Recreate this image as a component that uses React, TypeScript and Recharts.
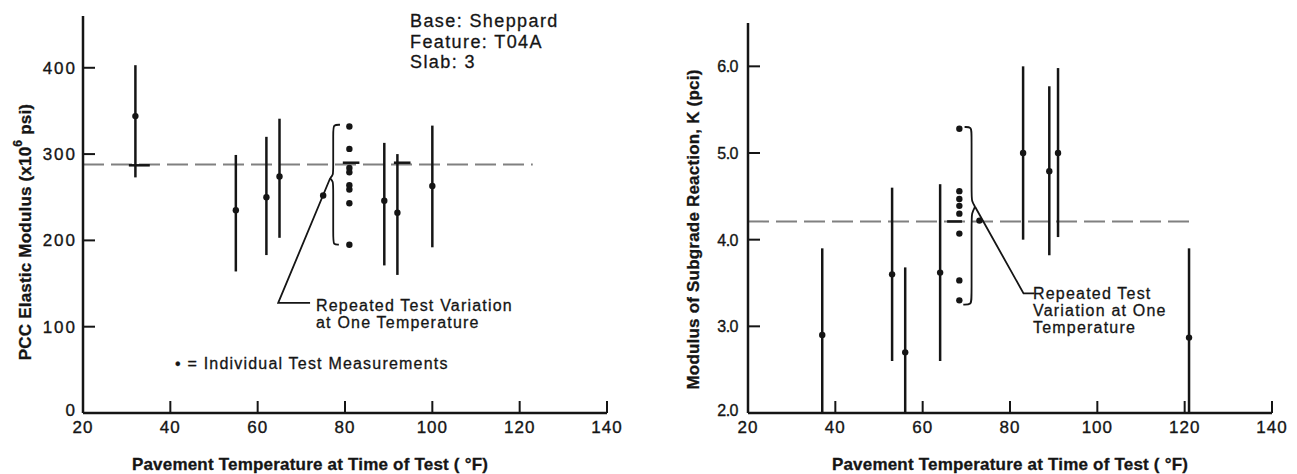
import React from 'react';
import { ComposedChart, Scatter, ErrorBar, XAxis, YAxis, Line, ReferenceLine } from 'recharts';

// ---------- shared ----------
const xTicks = [20, 40, 60, 80, 100, 120, 140];
const xTitle = 'Pavement Temperature at Time of Test ( °F)';

// ---------- left chart: PCC elastic modulus ----------
const leftTemps = [32, 55, 62, 65, 75, 89, 92, 100];
const leftMeans = [344, 235, 250, 274, 252, 246, 232, 263];
const leftHighs = [403, 299, 320, 341, 252, 313, 300, 333];
const leftLows = [273, 164, 183, 203, 252, 171, 160, 192];
const leftRepeatTemp = 81;
const leftRepeatValues = [332, 306, 284, 279, 264, 259, 243, 195];
const leftYTicks = [0, 100, 200, 300, 400];
const leftAverage = 288;
const leftAverageEnd = 123;
const leftMeanMarks = [
  { x1: 30.5, x2: 35.3, y: 287 },
  { x1: 79.5, x2: 83.3, y: 290 },
  { x1: 91.2, x2: 95, y: 290 },
];
const leftBrace = [
  { x: 78.85, y: 334 }, { x: 77.3, y: 334 }, { x: 77.3, y: 327 }, { x: 77.3, y: 282 },
  { x: 77.3, y: 276 }, { x: 76.6, y: 272 }, { x: 76.6, y: 272 }, { x: 77.3, y: 268 },
  { x: 77.3, y: 262 }, { x: 77.3, y: 203 }, { x: 77.3, y: 195 }, { x: 78.6, y: 195 },
];
const leftLeader = [{ x: 76.6, y: 272 }, { x: 64.7, y: 127.5 }, { x: 72, y: 127.5 }];

// ---------- right chart: modulus of subgrade reaction ----------
const rightTemps = [37, 53, 56, 64, 73, 83, 89, 91, 121];
const rightMeans = [2.9, 3.6, 2.7, 3.62, 4.22, 5.0, 4.79, 5.0, 2.87];
const rightHighs = [3.9, 4.6, 3.68, 4.64, 4.22, 6.0, 5.77, 5.98, 3.9];
const rightLows = [2.0, 2.6, 2.0, 2.6, 4.22, 4.0, 3.82, 4.03, 2.0];
const rightRepeatTemp = 68.4;
const rightRepeatValues = [5.28, 4.56, 4.47, 4.39, 4.3, 4.07, 3.53, 3.3];
const rightYTicks = [2, 3, 4, 5, 6];
const rightAverage = 4.21;
const rightAverageEnd = 121;
const rightMeanMarks = [{ x1: 65.6, x2: 69.0, y: 4.21 }];
const rightBrace = [
  { x: 69.6, y: 5.3 }, { x: 71.2, y: 5.3 }, { x: 71.2, y: 5.22 }, { x: 71.2, y: 4.52 },
  { x: 71.2, y: 4.45 }, { x: 72.0, y: 4.38 }, { x: 72.0, y: 4.38 }, { x: 71.2, y: 4.3 },
  { x: 71.2, y: 4.22 }, { x: 71.2, y: 3.33 }, { x: 71.2, y: 3.25 }, { x: 69.3, y: 3.25 },
];
const rightLeader = [{ x: 72.0, y: 4.38 }, { x: 83.1, y: 3.38 }, { x: 85.6, y: 3.38 }];

// ---------- helpers ----------
const buildRows = (t: number[], m: number[], lo: number[], hi: number[]) =>
  t.map((x, i) => ({ x, y: m[i], err: [m[i] - lo[i], hi[i] - m[i]] }));
const buildRepeat = (t: number, vals: number[]) => vals.map((y) => ({ x: t, y }));

const INK = '#151515';
const FONT = '"Liberation Sans", Arial, sans-serif';

const Dot = (p: any) => <circle cx={p.cx} cy={p.cy} r={3.2} fill={INK} />;

const makeYTick = (fmt: (v: number) => string, gap: number, ls: number, fs: number, lift: number) => (p: any) => (
  <g>
    <line x1={p.x} x2={p.x + 12} y1={p.y} y2={p.y} stroke={INK} strokeWidth={2} />
    <text x={p.x - gap} y={p.y} dy={p.index === 0 ? 6 - lift : 6} textAnchor="end" fontFamily={FONT}
      fontSize={fs} letterSpacing={ls} fill={INK} stroke={INK} strokeWidth={0.35}>{fmt(p.payload.value)}</text>
  </g>
);

const XTick = (p: any) => (
  <g>
    <line x1={p.x} x2={p.x} y1={p.y} y2={p.y - 12} stroke={INK} strokeWidth={2} />
    <text x={p.x} y={p.y + 20} textAnchor="middle" fontFamily={FONT} fontSize={17}
      letterSpacing={1} fill={INK} stroke={INK} strokeWidth={0.35}>{p.payload.value}</text>
  </g>
);

type PanelProps = {
  width: number;
  margin: any;
  yWidth: number;
  yDomain: number[];
  yTicks: number[];
  yTick: any;
  rows: any[];
  repeat: any[];
  avg: number;
  avgEnd: number;
  marks: any[];
  brace: any[];
  leader: any[];
};

const Panel = (p: PanelProps) => (
  <ComposedChart width={p.width} height={474} margin={p.margin}>
    <XAxis type="number" dataKey="x" domain={[20, 140]} ticks={xTicks} height={61}
      allowDataOverflow tickSize={0} tickMargin={0} tickLine={false}
      axisLine={{ stroke: INK, strokeWidth: 2.5 }} tick={XTick} interval={0} />
    <YAxis type="number" dataKey="y" domain={p.yDomain} ticks={p.yTicks} width={p.yWidth}
      allowDataOverflow tickSize={0} tickMargin={0} tickLine={false}
      axisLine={{ stroke: INK, strokeWidth: 2.5 }} tick={p.yTick} interval={0} />
    <ReferenceLine segment={[{ x: 20, y: p.avg }, { x: p.avgEnd, y: p.avg }]}
      stroke="#808080" strokeWidth={2} strokeDasharray="21 7" ifOverflow="visible" />
    {p.marks.map((m, i) => (
      <ReferenceLine key={i} segment={[{ x: m.x1, y: m.y }, { x: m.x2, y: m.y }]}
        stroke={INK} strokeWidth={2.5} ifOverflow="visible" />
    ))}
    <Line data={p.brace} dataKey="y" type="basis" dot={false} stroke={INK} strokeWidth={1.8}
      isAnimationActive={false} legendType="none" />
    <Line data={p.leader} dataKey="y" type="linear" dot={false} stroke={INK} strokeWidth={1.8}
      isAnimationActive={false} legendType="none" />
    <Scatter data={p.rows} dataKey="y" shape={Dot} isAnimationActive={false}>
      <ErrorBar dataKey="err" direction="y" width={0} stroke={INK} strokeWidth={2.5}
        isAnimationActive={false} />
    </Scatter>
    <Scatter data={p.repeat} dataKey="y" shape={Dot} isAnimationActive={false} />
  </ComposedChart>
);

const T = (props: any) => (
  <text fontFamily={FONT} fill={INK} stroke={INK} strokeWidth={0.3} fontSize={16} letterSpacing={1.2} {...props} />
);

export default function App() {
  const leftRows = buildRows(leftTemps, leftMeans, leftLows, leftHighs);
  const rightRows = buildRows(rightTemps, rightMeans, rightLows, rightHighs);
  return (
    <div style={{ position: 'absolute', left: 0, top: 0, width: 1297, height: 474, background: '#fff' }}>
      <div style={{ position: 'absolute', left: 0, top: 0 }}>
        <Panel width={640} margin={{ top: 16, right: 33, bottom: 0, left: 0 }} yWidth={83}
          yDomain={[0, 460]} yTicks={leftYTicks}
          yTick={makeYTick((v) => String(v), 6, 2, 17, 3)}
          rows={leftRows} repeat={buildRepeat(leftRepeatTemp, leftRepeatValues)}
          avg={leftAverage} avgEnd={leftAverageEnd} marks={leftMeanMarks}
          brace={leftBrace} leader={leftLeader} />
      </div>
      <div style={{ position: 'absolute', left: 640, top: 0 }}>
        <Panel width={657} margin={{ top: 23, right: 25, bottom: 0, left: 0 }} yWidth={108}
          yDomain={[2, 6.5]} yTicks={rightYTicks}
          yTick={makeYTick((v) => v.toFixed(1), 10, -0.5, 16, 3)}
          rows={rightRows} repeat={buildRepeat(rightRepeatTemp, rightRepeatValues)}
          avg={rightAverage} avgEnd={rightAverageEnd} marks={rightMeanMarks}
          brace={rightBrace} leader={rightLeader} />
      </div>
      <svg width={1297} height={474} style={{ position: 'absolute', left: 0, top: 0, pointerEvents: 'none' }}>
        <T x={410} y={27} fontSize={18} letterSpacing={1.4}>Base: Sheppard</T>
        <T x={410} y={48} fontSize={18} letterSpacing={1.4}>Feature: T04A</T>
        <T x={410} y={68} fontSize={18} letterSpacing={1.4}>Slab: 3</T>
        <T x={316} y={311}>Repeated Test Variation</T>
        <T x={316} y={328}>at One Temperature</T>
        <T x={175} y={369}>• = Individual Test Measurements</T>
        <T x={310} y={470} textAnchor="middle" fontWeight="bold" fontSize={17} letterSpacing={0.2}>{xTitle}</T>
        <T x={25} y={232} textAnchor="middle" dominantBaseline="central" fontWeight="bold" fontSize={17}
          letterSpacing={0.2} transform="rotate(-90 25 232)">
          PCC Elastic Modulus (x10<tspan dy={-7} fontSize={12}>6</tspan><tspan dy={7}> psi)</tspan>
        </T>

        <T x={1033} y={299}>Repeated Test</T>
        <T x={1033} y={316}>Variation at One</T>
        <T x={1033} y={333}>Temperature</T>
        <T x={1010} y={470} textAnchor="middle" fontWeight="bold" fontSize={17} letterSpacing={0.2}>{xTitle}</T>
        <T x={693} y={229.5} textAnchor="middle" dominantBaseline="central" fontWeight="bold" fontSize={17}
          letterSpacing={0.2} transform="rotate(-90 693 229.5)">Modulus of Subgrade Reaction, K (pci)</T>
      </svg>
    </div>
  );
}
